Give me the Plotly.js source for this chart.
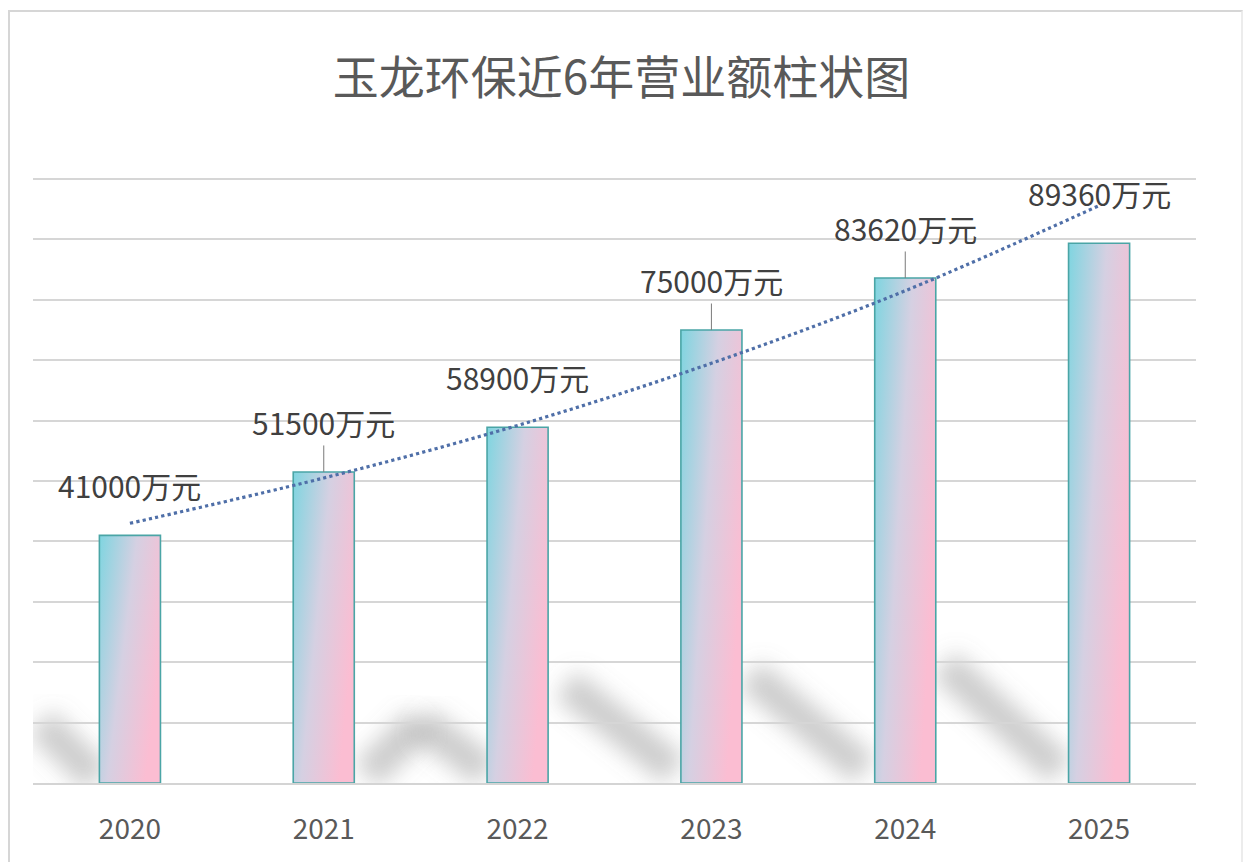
<!DOCTYPE html>
<html>
<head>
<meta charset="utf-8">
<script src="https://cdn.plot.ly/plotly-3.0.1.min.js"></script>
<style>
  html, body { margin: 0; padding: 0; background: #ffffff; }
  #chart { position: absolute; left: 0; top: 0; width: 1243px; height: 862px; }
  #frame { position: absolute; left: 8px; top: 10px; width: 1231px; height: 860px;
           border-left: 2px solid #d6d6d6; border-top: 2px solid #d6d6d6;
           border-right: 2px solid #ececec; pointer-events: none; }
</style>
</head>
<body>
<div id="chart"></div>
<div id="frame"></div>
<script>
// ---- data ----
const years = ['2020', '2021', '2022', '2023', '2024', '2025'];
const revenue = [41000, 51500, 58900, 75000, 83620, 89360];
const labelUnit = '万元';
// trend line (exponential trendline)
const trendValues = [43000, 50500, 59200, 69500, 81500, 95600];
const chartTitle = '玉龙环保近6年营业额柱状图';

// ---- styling config ----
const FONT = '"Noto Sans CJK SC", "Noto Sans", sans-serif';
const leaderIdx = [1, 3, 4];
const labelOffset = -50;
const pos = years.map((_, i) => i);

const bars = {
  type: 'bar',
  x: pos,
  y: revenue,
  width: 0.315,
  marker: { color: '#c8d6e4', line: { color: '#4aa5a6', width: 1.6 } },
  hoverinfo: 'skip',
  showlegend: false
};

const trend = {
  type: 'scatter',
  mode: 'lines',
  x: pos,
  y: trendValues,
  line: { color: '#4f6fa8', width: 3.2, dash: 'dot', shape: 'spline' },
  hoverinfo: 'skip',
  showlegend: false
};

const annotations = years.map((yr, i) => ({
  x: pos[i],
  y: revenue[i],
  xref: 'x', yref: 'y',
  text: String(revenue[i]) + labelUnit,
  showarrow: true,
  arrowhead: 0,
  arrowwidth: 1,
  arrowcolor: leaderIdx.includes(i) ? '#7a7a7a' : 'rgba(0,0,0,0)',
  ax: 0,
  ay: labelOffset,
  startstandoff: 0,
  font: { family: FONT, size: 30, color: '#404040' }
}));

// decorative soft shadows near the base
const shadowSegs = [
  [-0.46, 10000, -0.17, 800],
  [1.22, 1300, 1.5, 10100],
  [1.5, 10100, 1.84, 1800],
  [2.25, 16300, 2.81, 2100],
  [3.2, 17900, 3.79, 2100],
  [4.2, 19600, 4.8, 2100]
];
const shapes = shadowSegs.map(s => ({
  type: 'line', xref: 'x', yref: 'y',
  x0: s[0], y0: s[1], x1: s[2], y1: s[3],
  line: { color: 'rgba(120,120,120,0.38)', width: 34 },
  layer: 'below'
}));

const layout = {
  width: 1243,
  height: 862,
  margin: { l: 33, r: 47, t: 173, b: 79 },
  paper_bgcolor: '#ffffff',
  plot_bgcolor: '#ffffff',
  title: {
    text: chartTitle,
    font: { family: FONT, size: 46, color: '#595959' },
    x: 0.5, xanchor: 'center',
    y: 1 - 78 / 862, yref: 'container', yanchor: 'middle'
  },
  xaxis: {
    type: 'linear',
    range: [-0.5, 5.5],
    tickmode: 'array',
    tickvals: pos,
    ticktext: years,
    showgrid: false,
    zeroline: false,
    showline: true,
    linecolor: '#d4d4d4',
    linewidth: 2,
    ticks: '',
    ticklabelstandoff: 20,
    tickfont: { family: FONT, size: 28, color: '#595959' },
    fixedrange: true
  },
  yaxis: {
    range: [0, 101000],
    dtick: 10000,
    tick0: 0,
    showticklabels: false,
    showgrid: true,
    gridcolor: '#d6d6d6',
    gridwidth: 2,
    zeroline: false,
    showline: false,
    ticks: '',
    fixedrange: true
  },
  annotations: annotations,
  shapes: shapes
};

Plotly.newPlot('chart', [bars, trend], layout, { displayModeBar: false, staticPlot: true }).then(gd => {
  const svgNS = 'http://www.w3.org/2000/svg';
  const svg = gd.querySelector('svg.main-svg');
  let defs = svg.querySelector('defs');
  if (!defs) { defs = document.createElementNS(svgNS, 'defs'); svg.insertBefore(defs, svg.firstChild); }

  const grad = document.createElementNS(svgNS, 'linearGradient');
  grad.setAttribute('id', 'barGrad');
  grad.setAttribute('x1', '0'); grad.setAttribute('y1', '0');
  grad.setAttribute('x2', '1'); grad.setAttribute('y2', '0.5');
  [['0', '#7fd5e0'], ['0.5', '#d5d0e2'], ['1', '#fbbdd2']].forEach(([o, c]) => {
    const st = document.createElementNS(svgNS, 'stop');
    st.setAttribute('offset', o); st.setAttribute('stop-color', c);
    grad.appendChild(st);
  });
  defs.appendChild(grad);

  const filt = document.createElementNS(svgNS, 'filter');
  filt.setAttribute('id', 'softBlur');
  filt.setAttribute('x', '-50%'); filt.setAttribute('y', '-50%');
  filt.setAttribute('width', '200%'); filt.setAttribute('height', '200%');
  const blur = document.createElementNS(svgNS, 'feGaussianBlur');
  blur.setAttribute('stdDeviation', '11');
  filt.appendChild(blur);
  defs.appendChild(filt);

  gd.querySelectorAll('.trace.bars .point path').forEach(p => { p.style.fill = 'url(#barGrad)'; });
  gd.querySelectorAll('.shapelayer path').forEach(p => { p.setAttribute('filter', 'url(#softBlur)'); });
});
</script>
</body>
</html>
